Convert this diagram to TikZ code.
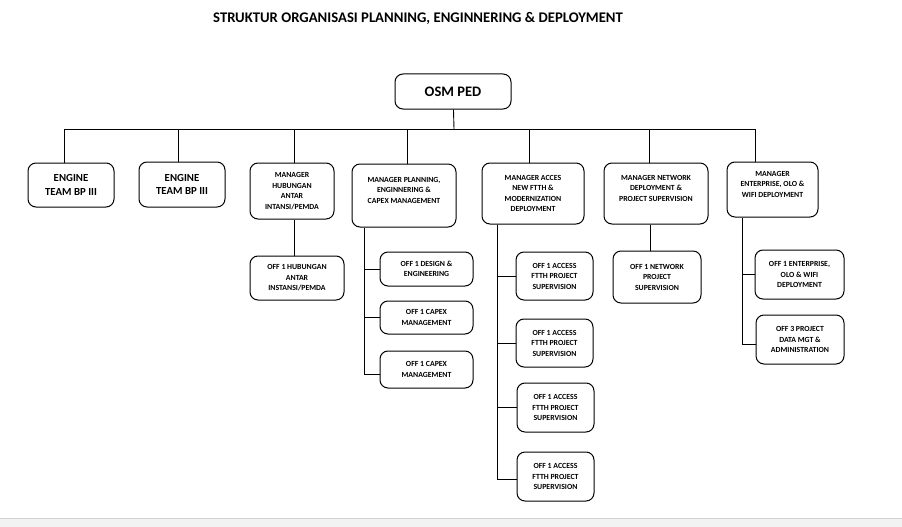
\documentclass[tikz,border=0pt]{standalone}
\usepackage{fontspec}
\setmainfont{Carlito}
\usetikzlibrary{positioning}

\begin{document}
\begin{tikzpicture}[x=1pt, y=-1pt,
        box/.style = {rectangle, draw, rounded corners=8pt, line width=1pt,
                     align=center, inner sep=1pt,
                     font=\bfseries\fontsize{7.8}{10.5}\selectfont},
     bigbox/.style = {box, font=\bfseries\fontsize{10.8}{13.3}\selectfont},
       link/.style = {line width=0.9pt}
                        ]
\useasboundingbox (0,0) rectangle (902,527);
\fill[gray!10] (0,518) rectangle (902,527);
\draw[gray!35] (0,518) -- (902,518);
\node (title) at (418,18) {\bfseries\fontsize{14.7}{16}\selectfont STRUKTUR ORGANISASI PLANNING, ENGINNERING \& DEPLOYMENT};
% top
\node (osm) [box, font=\bfseries\fontsize{14.5}{16}\selectfont,
             minimum width=116pt, minimum height=35pt] at (453,91.5) {OSM PED};
\coordinate (bus) at (454,129);
% managers
\node (eng1) [bigbox, minimum width=86pt, minimum height=44pt] at (71,185) {ENGINE\\TEAM BP III};
\node (eng2) [bigbox, minimum width=86pt, minimum height=45pt] at (182,184.5) {ENGINE\\TEAM BP III};
\node (hub) [box, minimum width=84pt, minimum height=56pt] at (292,191) {MANAGER\\HUBUNGAN\\ANTAR\\INTANSI/PEMDA};
\node (plan) [box, minimum width=104pt, minimum height=63pt] at (404,195.5) {MANAGER PLANNING,\\ENGINNERING \&\\CAPEX MANAGEMENT\\~};
\node (acc) [box, minimum width=102pt, minimum height=61pt] at (533,193.5) {MANAGER ACCES\\NEW FTTH \&\\MODERNIZATION\\DEPLOYMENT};
\node (net) [box, minimum width=104pt, minimum height=61pt] at (656,193.5) {MANAGER NETWORK\\DEPLOYMENT \&\\PROJECT SUPERVISION\\~};
\node (ent) [box, minimum width=91pt, minimum height=55pt] at (772.5,189.5) {MANAGER\\ENTERPRISE, OLO \&\\WIFI DEPLOYMENT\\~};
% officers
\node (offhub) [box, minimum width=94pt, minimum height=44pt] at (297,278) {OFF 1 HUBUNGAN\\ANTAR\\INSTANSI/PEMDA};
\node (des) [box, minimum width=93pt, minimum height=34pt] at (426.5,269) {OFF 1 DESIGN \&\\ENGINEERING};
\node (cap1) [box, minimum width=93pt, minimum height=33pt] at (426.5,317.5) {OFF 1 CAPEX\\MANAGEMENT};
\node (cap2) [box, minimum width=93pt, minimum height=37pt] at (426.5,369.5) {OFF 1 CAPEX\\MANAGEMENT};
\node (acc1) [box, minimum width=77pt, minimum height=48pt] at (554.5,276) {OFF 1 ACCESS\\FTTH PROJECT\\SUPERVISION};
\node (acc2) [box, minimum width=77pt, minimum height=48pt] at (554.5,343) {OFF 1 ACCESS\\FTTH PROJECT\\SUPERVISION};
\node (acc3) [box, minimum width=77pt, minimum height=49pt] at (555.5,407.5) {OFF 1 ACCESS\\FTTH PROJECT\\SUPERVISION};
\node (acc4) [box, minimum width=77pt, minimum height=49pt] at (555.5,476.5) {OFF 1 ACCESS\\FTTH PROJECT\\SUPERVISION};
\node (offnet) [box, minimum width=88pt, minimum height=52pt] at (657,277) {OFF 1 NETWORK\\PROJECT\\SUPERVISION};
\node (ent1) [box, minimum width=89pt, minimum height=49pt] at (799.5,274.5) {OFF 1 ENTERPRISE,\\OLO \& WIFI\\DEPLOYMENT};
\node (ent2) [box, minimum width=88pt, minimum height=49pt] at (800,339.5) {OFF 3 PROJECT\\DATA MGT \&\\ADMINISTRATION};
% lines
\draw[link] (osm) -- (bus);
\draw[link] ([xshift=-7pt]eng1.north) |- (bus);
\draw[link] ([xshift=-4pt]eng2.north) |- (bus);
\draw[link] ([xshift=2pt]hub.north) |- (bus);
\draw[link] ([xshift=3pt]plan.north) |- (bus);
\draw[link] ([xshift=-4pt]acc.north) |- (bus);
\draw[link] ([xshift=-7pt]net.north) |- (bus);
\draw[link] ([xshift=-17.5pt]ent.north) |- (bus);
\draw[link] ([xshift=2pt]hub.south) -- ([xshift=2pt]hub.south |- offhub.north);
\draw[link] ([xshift=-6pt]net.south) -- ([xshift=-6pt]net.south |- offnet.north);
\draw[link] ([xshift=-40pt]plan.south) |- (des.west);
\draw[link] ([xshift=-40pt]plan.south) |- (cap1.west);
\draw[link] ([xshift=-40pt]plan.south) |- ([yshift=-5pt]cap2.west);
\draw[link] ([xshift=-36pt]acc.south) |- (acc1.west);
\draw[link] ([xshift=-36pt]acc.south) |- (acc2.west);
\draw[link] ([xshift=-36pt]acc.south) |- (acc3.west);
\draw[link] ([xshift=-36pt]acc.south) |- ([yshift=-3pt]acc4.west);
\draw[link] ([xshift=-30.5pt]ent.south) |- (ent1.west);
\draw[link] ([xshift=-30.5pt]ent.south) |- ([yshift=-5pt]ent2.west);
\end{tikzpicture}
\end{document}
